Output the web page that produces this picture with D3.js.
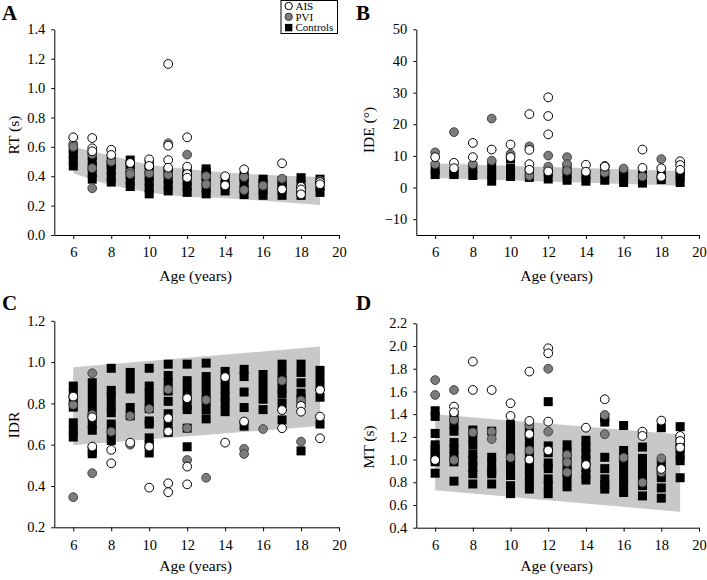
<!DOCTYPE html>
<html><head><meta charset="utf-8">
<script src="https://cdn.jsdelivr.net/npm/d3@7"></script>
<style>
body{margin:0;background:#fff}
svg{display:block}
text{font-family:"Liberation Serif","Times New Roman",Times,serif;fill:#000}
</style>
</head><body>
<svg id="chart" width="707" height="580"></svg>
<script>
// ---------- DATA ----------
const ages = [6,7,8,9,10,11,12,13,14,15,16,17,18,19];
const xTicks = [6,8,10,12,14,16,18,20];

// Panel A: RT (s)
const rtTicks = [0,0.2,0.4,0.6,0.8,1.0,1.2,1.4];
const rtBandAges = [6,8,10,12,14,16,19];
const rtBandUpper = [0.60,0.54,0.48,0.45,0.425,0.41,0.395];
const rtBandLower = [0.42,0.34,0.29,0.26,0.25,0.233,0.204];
const rtControls = [
  [0.47,0.51,0.55,0.58],[0.38,0.42,0.46,0.50,0.54],[0.36,0.40,0.44,0.48,0.50],
  [0.33,0.37,0.41,0.45,0.48,0.51],[0.28,0.32,0.36,0.40,0.44,0.48],[0.30,0.34,0.38,0.42,0.44],
  [0.29,0.33,0.37,0.41,0.43],[0.28,0.32,0.36,0.40,0.43,0.45],[0.30,0.34,0.37],
  [0.275,0.31,0.35,0.39,0.40],[0.27,0.31,0.35,0.38],[0.27,0.31,0.34,0.37],
  [0.27,0.31,0.35,0.39],[0.29,0.33,0.38]];
const rtPVI = [
  [0.62,0.60],[0.55,0.455,0.318],[0.50],[0.43,0.415],[0.42],[0.624,0.41],[0.547],
  [0.40,0.345],[],[0.395,0.306],[0.336],[0.383],[0.32],[0.37]];
const rtAIS = [
  [0.665],[0.66,0.59,0.57],[0.58,0.545],[0.49],[0.515,0.47],[1.164,0.608,0.51,0.458],
  [0.665,0.465,0.415,0.39],[],[0.40,0.338],[0.447],[],[0.488,0.311],[0.329,0.31,0.277],[0.36,0.345]];

// Panel B: IDE (deg)
const ideTicks = [-10,0,10,20,30,40,50];
const ideBandAges = [6,19];
const ideBandUpper = [7.6,5.2];
const ideBandLower = [3.0,0.6];
const ideControls = [
  [4.1,5.6],[4.1,4.5],[3.8,6.0],[2.0,4.5,7.0],[3.5,6.0,9.0],[3.2,5.0],[2.7,5.0],
  [2.3,4.2,6.0],[2.0,3.9],[2.3,4.5],[1.6,3.5,4.5],[1.4,3.9],[2.5,3.9],[1.6,3.5,4.5]];
const idePVI = [
  [11.1,7.4],[17.5],[7.4],[21.8,8.5],[10.6],[13.0,3.7],[10.1,6.6],
  [9.6,7.4,5.3],[],[4.7],[6.0],[3.5],[9.0],[]];
const ideAIS = [
  [9.6],[7.8,6.1],[14.1,9.6],[12.0],[13.6,9.6],[23.2,11.9,7.4,5.6],[28.5,22.6,16.8,5.1],
  [],[7.2,5.0],[6.8,6.6],[],[12.0,6.2],[6.1,3.4],[8.3,7.1,5.6]];

// Panel C: IDR
const idrTicks = [0.2,0.4,0.6,0.8,1.0,1.2];
const idrBandAges = [6,19];
const idrBandUpper = [0.975,1.075];
const idrBandLower = [0.597,0.69];
const idrControls = [
  [0.884,0.85,0.815,0.782,0.706,0.67,0.637],
  [0.90,0.86,0.82,0.78,0.74,0.70,0.67,0.57,0.556],
  [0.97,0.863,0.83,0.79,0.755,0.70,0.66,0.62],
  [0.95,0.91,0.87,0.78,0.74],
  [0.97,0.884,0.85,0.81,0.775,0.715,0.70,0.633,0.60,0.56],
  [0.99,0.935,0.90,0.86,0.81,0.75,0.70,0.66],
  [0.99,0.91,0.87,0.83,0.79,0.77,0.68,0.59],
  [0.995,0.93,0.89,0.85,0.81,0.77,0.725],
  [0.955,0.915,0.875,0.835,0.80,0.76],
  [0.965,0.93,0.855,0.78,0.69],
  [0.94,0.90,0.86,0.82,0.77],
  [0.99,0.95,0.91,0.87,0.845,0.80,0.72],
  [0.99,0.95,0.90,0.85,0.82,0.57],
  [0.96,0.92,0.88,0.83,0.70]];
const idrPVI = [
  [0.793,0.346],[0.946,0.745,0.462],[0.663],[0.739,0.60],[0.773],[0.868],[0.68,0.526],
  [0.817,0.44],[],[0.58,0.555],[0.676],[0.91],[0.814,0.615],[]];
const idrAIS = [
  [0.833],[0.733,0.591],[0.575,0.51],[0.61],[0.591,0.392],[0.728,0.664,0.413,0.37],
  [0.825,0.494,0.408],[],[0.927,0.61],[0.712],[],[0.768,0.68],[0.788,0.76],[0.865,0.736,0.631]];

// Panel D: MT (s)
const mtTicks = [0.4,0.6,0.8,1.0,1.2,1.4,1.6,1.8,2.0,2.2];
const mtBandAges = [6,19];
const mtBandUpper = [1.40,1.22];
const mtBandLower = [0.73,0.54];
const mtControls = [
  [1.43,1.38,1.23,1.13,1.09,1.05,1.01,0.98,0.88],
  [1.37,1.31,1.25,1.15,1.09,1.03,0.98,0.81],
  [1.26,1.20,1.13,1.05,0.99,0.93,0.875,0.785],
  [1.25,1.02,0.96,0.90,0.875,0.785],
  [1.31,1.25,1.19,1.13,1.07,1.01,0.95,0.89,0.86,0.77,0.70],
  [1.28,1.22,1.16,1.10,1.04,0.98,0.92,0.86,0.80,0.74],
  [1.51,1.12,1.06,0.97,0.92,0.83,0.77,0.70],
  [1.13,1.07,1.01,0.95,0.89,0.83,0.76],
  [1.17,1.11,1.05,0.99,0.93,0.87,0.82],
  [1.37,1.33,1.02,0.92,0.83,0.78,0.74],
  [1.30,1.08,1.02,0.96,0.90,0.84,0.78,0.71],
  [1.11,1.01,0.95,0.89,0.83,0.77,0.68],
  [1.28,0.96,0.90,0.84,0.75,0.66],
  [1.29,1.16,1.10,1.04,0.99,0.84]];
const mtPVI = [
  [1.70,1.569],[1.613,1.349,0.996],[1.24],[1.246,1.181],[1.017],[1.30,1.08],[1.80,1.246],
  [1.04,0.976,0.888],[],[1.393,1.223],[1.017],[0.797],[1.011,0.888],[]];
const mtAIS = [
  [0.996],[1.466,1.416],[1.863,1.613],[1.613],[1.496,1.384],[1.775,1.34,1.225,1.0],
  [1.98,1.936,1.334,1.08],[],[1.281,0.952],[1.531],[],[1.246,1.208],[1.343,0.917],[1.208,1.164,1.105]];

const legendLabels = ["AIS","PVI","Controls"];

// ---------- DRAW ----------
const svg = d3.select("#chart");
const GRAY_BAND = "#c8c8c8", PVI_FILL = "#7c7c7c", PVI_STROKE = "#3a3a3a";
const FONT = "Liberation Serif, Times New Roman, serif";

const panels = [
  {letter:"A", lx:2, ly:20, left:54.3, right:339, top:29.3, bottom:235, domain:[0,1.4], ticks:rtTicks, fmt:d3.format(".1f"),
   ylabel:"RT (s)", ylx:19, yly:135, xly:281,
   bandAges:rtBandAges, up:rtBandUpper, lo:rtBandLower, curve:true, ctrl:rtControls, pvi:rtPVI, ais:rtAIS},
  {letter:"B", lx:356, ly:20, left:416.3, right:699, top:29.3, bottom:235, domain:[-15,50], ticks:ideTicks, fmt:d3.format("d"),
   ylabel:"IDE (\u00B0)", ylx:374, yly:130, xly:281,
   bandAges:ideBandAges, up:ideBandUpper, lo:ideBandLower, curve:false, ctrl:ideControls, pvi:idePVI, ais:ideAIS},
  {letter:"C", lx:2, ly:310, left:54.3, right:339, top:320.8, bottom:527.3, domain:[0.2,1.2], ticks:idrTicks, fmt:d3.format(".1f"),
   ylabel:"IDR", ylx:19, yly:425, xly:571,
   bandAges:idrBandAges, up:idrBandUpper, lo:idrBandLower, curve:false, ctrl:idrControls, pvi:idrPVI, ais:idrAIS},
  {letter:"D", lx:356, ly:310, left:416.3, right:699, top:323.3, bottom:527.7, domain:[0.4,2.2], ticks:mtTicks, fmt:d3.format(".1f"),
   ylabel:"MT (s)", ylx:374, yly:447, xly:571,
   bandAges:mtBandAges, up:mtBandUpper, lo:mtBandLower, curve:false, ctrl:mtControls, pvi:mtPVI, ais:mtAIS}
];

panels.forEach(p => {
  const g = svg.append("g");
  const x = d3.scaleLinear().domain([5,20]).range([p.left,p.right]);
  const y = d3.scaleLinear().domain(p.domain).range([p.bottom,p.top]);

  // band
  const bandData = p.bandAges.map((a,i)=>({a, u:p.up[i], l:p.lo[i]}));
  const area = d3.area().x(d=>x(d.a)).y0(d=>y(d.l)).y1(d=>y(d.u))
    .curve(p.curve ? d3.curveMonotoneX : d3.curveLinear);
  g.append("path").datum(bandData).attr("d",area).attr("fill",GRAY_BAND);

  // controls squares
  const sq = [];
  p.ctrl.forEach((vals,i)=>vals.forEach(v=>sq.push({a:ages[i],v})));
  g.selectAll("rect.ctrl").data(sq).join("rect").attr("class","ctrl")
    .attr("x",d=>x(d.a)-4.5).attr("y",d=>y(d.v)-4.5).attr("width",9).attr("height",9).attr("fill","#000");

  // PVI
  const pv = [];
  p.pvi.forEach((vals,i)=>vals.forEach(v=>pv.push({a:ages[i],v})));
  g.selectAll("circle.pvi").data(pv).join("circle").attr("class","pvi")
    .attr("cx",d=>x(d.a)).attr("cy",d=>y(d.v)).attr("r",4.4)
    .attr("fill",PVI_FILL).attr("stroke",PVI_STROKE).attr("stroke-width",0.9);

  // AIS
  const ai = [];
  p.ais.forEach((vals,i)=>vals.forEach(v=>ai.push({a:ages[i],v})));
  g.selectAll("circle.ais").data(ai).join("circle").attr("class","ais")
    .attr("cx",d=>x(d.a)).attr("cy",d=>y(d.v)).attr("r",4.4)
    .attr("fill","#fff").attr("stroke","#000").attr("stroke-width",1);

  // axes
  const ya = g.append("g").attr("transform",`translate(${p.left},0)`)
    .call(d3.axisLeft(y).tickValues(p.ticks).tickFormat(p.fmt).tickSize(3).tickPadding(6).tickSizeOuter(0));
  const xa = g.append("g").attr("transform",`translate(0,${p.bottom})`)
    .call(d3.axisBottom(x).tickValues(xTicks).tickFormat(d3.format("d")).tickSize(4).tickPadding(8).tickSizeOuter(0));
  [ya,xa].forEach(a=>{
    a.attr("font-family",FONT);
    a.selectAll("text").attr("font-size",14.5).attr("font-family",FONT).attr("fill","#000");
    a.select(".domain").attr("stroke","#000").attr("stroke-width",1);
    a.selectAll(".tick line").attr("stroke","#000");
  });

  // labels
  g.append("text").attr("x",(p.left+p.right)/2 - 1).attr("y",p.xly).attr("text-anchor","middle")
    .attr("font-size",15.5).text("Age (years)");
  g.append("text").attr("transform",`translate(${p.ylx},${p.yly}) rotate(-90)`).attr("text-anchor","middle")
    .attr("font-size",15.5).text(p.ylabel);
  g.append("text").attr("x",p.lx).attr("y",p.ly).attr("font-size",21).attr("font-weight","bold").text(p.letter);
});

// legend
const lg = svg.append("g");
lg.append("rect").attr("x",281).attr("y",0.5).attr("width",56.5).attr("height",33)
  .attr("fill","#fff").attr("stroke","#000").attr("stroke-width",1);
const ly = [6,16.8,27.6];
lg.append("circle").attr("cx",288.7).attr("cy",ly[0]).attr("r",3.7).attr("fill","#fff").attr("stroke","#000");
lg.append("circle").attr("cx",288.7).attr("cy",ly[1]).attr("r",3.7).attr("fill",PVI_FILL).attr("stroke",PVI_STROKE);
lg.append("rect").attr("x",285).attr("y",ly[2]-3.7).attr("width",7.4).attr("height",7.4).attr("fill","#000");
legendLabels.forEach((t,i)=>{
  lg.append("text").attr("x",295.5).attr("y",ly[i]+3.8).attr("font-size",11).text(t);
});
</script>
</body></html>
